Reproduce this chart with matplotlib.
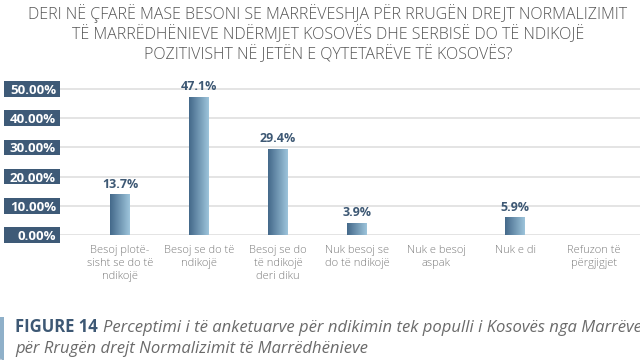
import numpy as np
import matplotlib.pyplot as plt
from matplotlib.patches import Rectangle
from matplotlib.lines import Line2D
from matplotlib.colors import LinearSegmentedColormap
import matplotlib.transforms as mtransforms

plt.rcParams['font.family'] = ['Open Sans', 'DejaVu Sans']

categories = ["Besoj plotë-\nsisht se do të\nndikojë", "Besoj se do të\nndikojë",
              "Besoj se do\ntë ndikojë\nderi diku", "Nuk besoj se\ndo të ndikojë",
              "Nuk e besoj\naspak", "Nuk e di", "Refuzon të\npërgjigjet"]
values = [13.7, 47.1, 29.4, 3.9, 0, 5.9, 0]
value_labels = ["13.7%", "47.1%", "29.4%", "3.9%", "", "5.9%", ""]
yticks = [0, 10, 20, 30, 40, 50]
ytick_labels = ["0.00%", "10.00%", "20.00%", "30.00%", "40.00%", "50.00%"]

title_lines = ["DERI NË ÇFARË MASE BESONI SE MARRËVESHJA PËR RRUGËN DREJT NORMALIZIMIT",
               "TË MARRËDHËNIEVE NDËRMJET KOSOVËS DHE SERBISË DO TË NDIKOJË",
               "POZITIVISHT NË JETËN E QYTETARËVE TË KOSOVËS?"]
caption_bold = "FIGURE 14"
caption_1 = "Perceptimi i të anketuarve për ndikimin tek populli i Kosovës nga Marrëveshja"
caption_2 = "për Rrugën drejt Normalizimit të Marrëdhënieve"

W, H = 640, 360
dark = '#3d5874'
fig = plt.figure(figsize=(6.4, 3.6), dpi=100)
fig.patch.set_facecolor('white')

def fx(px):
    return px / W

def fy(py):
    return 1 - py / H

ax = fig.add_axes([fx(60), fy(235), 1 - fx(60), fy(74.4) - fy(235)])
for s in ax.spines.values():
    s.set_visible(False)

# gridlines
for t in yticks:
    ax.axhline(t, color='#e2e2e2', lw=1.3, zorder=0)

# bars with horizontal gradient
x = np.arange(len(categories))
bars = ax.bar(x, values, width=0.253, color='none', zorder=2)
grad = np.linspace(0, 1, 64).reshape(1, -1)
cmap = LinearSegmentedColormap.from_list('bar', ['#44698a', '#9dc4db'])
for b, v, lab in zip(bars, values, value_labels):
    if v > 0:
        x0, w = b.get_x(), b.get_width()
        ax.imshow(grad, cmap=cmap, aspect='auto', extent=(x0, x0 + w, 0, v),
                  zorder=2, interpolation='bilinear')
    if lab:
        ax.annotate(lab, (b.get_x() + b.get_width() / 2, v), xytext=(0, 3),
                    textcoords='offset points', ha='center', va='bottom',
                    fontsize=9, fontweight='bold', color=dark)
ax.set_xlim(-0.76, 6.58)
ax.set_ylim(0, 55)

# x labels
ax.set_xticks(x)
ax.set_xticklabels(categories, fontsize=8, color='#7b7b7b', fontweight='light',
                   linespacing=1.25)
ax.tick_params(axis='x', length=0, pad=7)
ax.set_yticks([])

# y tick boxes
trans = mtransforms.blended_transform_factory(fig.transFigure, ax.transData)
bh = 15.6 / 2.92
for t, lab in zip(yticks, ytick_labels):
    fig.patches.append(Rectangle((fx(4), t - bh / 2), fx(56), bh, transform=trans,
                                 facecolor='#3e5a77', edgecolor='none', clip_on=False))
    fig.text(fx(56), t, lab, transform=trans, ha='right', va='center_baseline',
             fontsize=9.5, fontweight='bold', color='white')

# title
for i, line in enumerate(title_lines):
    fig.text(fx(328), fy(19.3 + 20 * i), line, ha='center', va='baseline',
             fontsize=11.5, fontweight='light', color='#555555')
fig.lines.append(Line2D([fx(141), fx(512)], [fy(65.5), fy(65.5)], color='#9a9a9a', lw=0.9))

# frame lines
fig.lines.append(Line2D([fx(1), fx(1)], [fy(0), fy(293)], color='#dddddd', lw=1))
fig.lines.append(Line2D([0, 1], [fy(293), fy(293)], color='#c3d2de', lw=1.5))
fig.patches.append(Rectangle((0, fy(360)), fx(3.5), fy(317) - fy(360),
                             transform=fig.transFigure, facecolor='#8fb0c9',
                             edgecolor='none'))

# caption
fig.text(fx(15), fy(331.7), caption_bold, ha='left', va='baseline', fontsize=12,
         fontweight='bold', color=dark)
fig.text(fx(103), fy(331.7), caption_1, ha='left', va='baseline', fontsize=12,
         style='italic', color='#6a6a6a')
fig.text(fx(15), fy(353), caption_2, ha='left', va='baseline', fontsize=12,
         style='italic', color='#6a6a6a')

fig.savefig('out.png', dpi=100)
